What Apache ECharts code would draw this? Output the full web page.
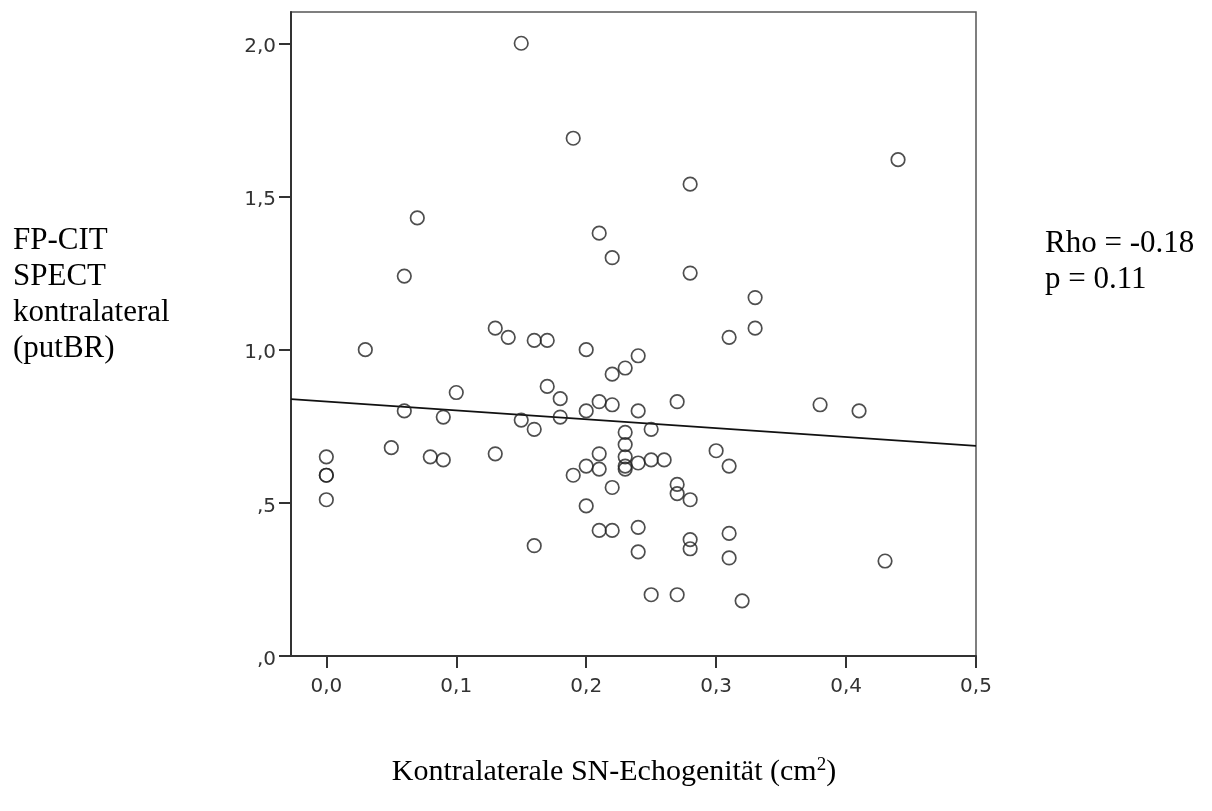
<!DOCTYPE html>
<html><head><meta charset="utf-8">
<script src="https://cdn.jsdelivr.net/npm/echarts@6/dist/echarts.min.js"></script>
<style>html,body{margin:0;padding:0;background:#fff}#c{width:1212px;height:811px}</style>
</head><body><div id="c"></div>
<script>
// --- data ---
const xValues = [
  0, 0, 0, 0,
  0.03, 0.05, 0.06, 0.06, 0.07, 0.08, 0.09, 0.09, 0.10,
  0.13, 0.13, 0.14, 0.15, 0.15, 0.16, 0.16, 0.16, 0.17, 0.17,
  0.18, 0.18, 0.19, 0.19,
  0.20, 0.20, 0.20, 0.20,
  0.21, 0.21, 0.21, 0.21, 0.21,
  0.22, 0.22, 0.22, 0.22, 0.22,
  0.23, 0.23, 0.23, 0.23, 0.23, 0.23,
  0.24, 0.24, 0.24, 0.24, 0.24,
  0.25, 0.25, 0.25, 0.26,
  0.27, 0.27, 0.27, 0.27,
  0.28, 0.28, 0.28, 0.28, 0.28,
  0.30, 0.31, 0.31, 0.31, 0.31, 0.32, 0.33, 0.33,
  0.38, 0.41, 0.43, 0.44
];
const yValues = [
  0.65, 0.59, 0.59, 0.51,
  1.00, 0.68, 1.24, 0.80, 1.43, 0.65, 0.78, 0.64, 0.86,
  1.07, 0.66, 1.04, 2.00, 0.77, 1.03, 0.74, 0.36, 1.03, 0.88,
  0.84, 0.78, 1.69, 0.59,
  1.00, 0.80, 0.62, 0.49,
  1.38, 0.83, 0.66, 0.61, 0.41,
  1.30, 0.92, 0.82, 0.55, 0.41,
  0.94, 0.73, 0.69, 0.65, 0.62, 0.61,
  0.98, 0.80, 0.63, 0.42, 0.34,
  0.74, 0.64, 0.20, 0.64,
  0.83, 0.56, 0.53, 0.20,
  1.54, 1.25, 0.51, 0.38, 0.35,
  0.67, 1.04, 0.62, 0.40, 0.32, 0.18, 1.17, 1.07,
  0.82, 0.80, 0.31, 1.62
];
const xTickValues = [0, 0.1, 0.2, 0.3, 0.4, 0.5];
const xTickLabels = ['0,0', '0,1', '0,2', '0,3', '0,4', '0,5'];
const yTickValues = [0, 0.5, 1.0, 1.5, 2.0];
const yTickLabels = [',0', ',5', '1,0', '1,5', '2,0'];
const xRange = [-0.0272, 0.5];
const yRange = [0, 2.102];
const fitIntercept = 0.8307;
const fitSlope = -0.2895;
const yTitleLines = ['FP-CIT', 'SPECT', 'kontralateral', '(putBR)'];
const statLines = ['Rho = -0.18', 'p = 0.11'];
const xTitleMain = 'Kontralaterale SN-Echogenität (cm';
const xTitleSup = '2';
const xTitleEnd = ')';

// --- build ---
const points = xValues.map((x, i) => [x, yValues[i]]);
const fitLine = xRange.map(x => [x, fitIntercept + fitSlope * x]);
const pick = (vals, labels) => v => {
  const i = vals.findIndex(t => Math.abs(t - v) < 1e-6);
  return i >= 0 ? labels[i] : '';
};
const serif = "'Liberation Serif','Times New Roman',serif";
const tickFont = { fontFamily: 'DejaVu Sans', fontSize: 20, color: '#333' };

const chart = echarts.init(document.getElementById('c'), null, { renderer: 'canvas' });
chart.setOption({
  animation: false,
  backgroundColor: '#fff',
  grid: { left: 291, right: 236, top: 12, bottom: 155, show: true,
          borderColor: '#555', borderWidth: 1.5, backgroundColor: 'transparent' },
  xAxis: {
    type: 'value', min: xRange[0], max: xRange[1],
    splitLine: { show: false },
    axisLine: { show: true, onZero: false, lineStyle: { color: '#333', width: 2 } },
    axisTick: { show: true, customValues: xTickValues, length: 12, lineStyle: { color: '#333', width: 2 } },
    axisLabel: Object.assign({ customValues: xTickValues, margin: 21,
      formatter: pick(xTickValues, xTickLabels) }, tickFont)
  },
  yAxis: {
    type: 'value', min: yRange[0], max: yRange[1],
    splitLine: { show: false },
    axisLine: { show: true, onZero: false, lineStyle: { color: '#333', width: 2 } },
    axisTick: { show: true, customValues: yTickValues, length: 12, lineStyle: { color: '#333', width: 2 } },
    axisLabel: Object.assign({ customValues: yTickValues, margin: 15,
      verticalAlign: 'top', lineHeight: 7,
      formatter: pick(yTickValues, yTickLabels) }, tickFont)
  },
  series: [
    { type: 'line', data: fitLine, symbol: 'none', silent: true,
      lineStyle: { color: '#111', width: 1.6 }, z: 2 },
    { type: 'scatter', data: points, symbol: 'circle', symbolSize: 13.5,
      itemStyle: { color: 'rgba(0,0,0,0)', borderColor: '#222', borderWidth: 1.7 }, z: 3 }
  ],
  graphic: [
    { type: 'text', x: 13, y: 223, style: { text: yTitleLines.join('\n'),
      font: '31px ' + serif, fill: '#000', lineHeight: 36, verticalAlign: 'top' } },
    { type: 'text', x: 1045, y: 226, style: { text: statLines.join('\n'),
      font: '31px ' + serif, fill: '#000', lineHeight: 36, verticalAlign: 'top' } },
    { type: 'text', x: 614, y: 772, style: {
      text: '{m|' + xTitleMain + '}{s|' + xTitleSup + '}{m|' + xTitleEnd + '}',
      align: 'center', verticalAlign: 'middle',
      rich: {
        m: { fontFamily: serif, fontSize: 30, fill: '#000', color: '#000' },
        s: { fontFamily: serif, fontSize: 19, fill: '#000', color: '#000', verticalAlign: 'top', padding: [0, 0, 14, 0] }
      } } }
  ]
});
</script></body></html>
